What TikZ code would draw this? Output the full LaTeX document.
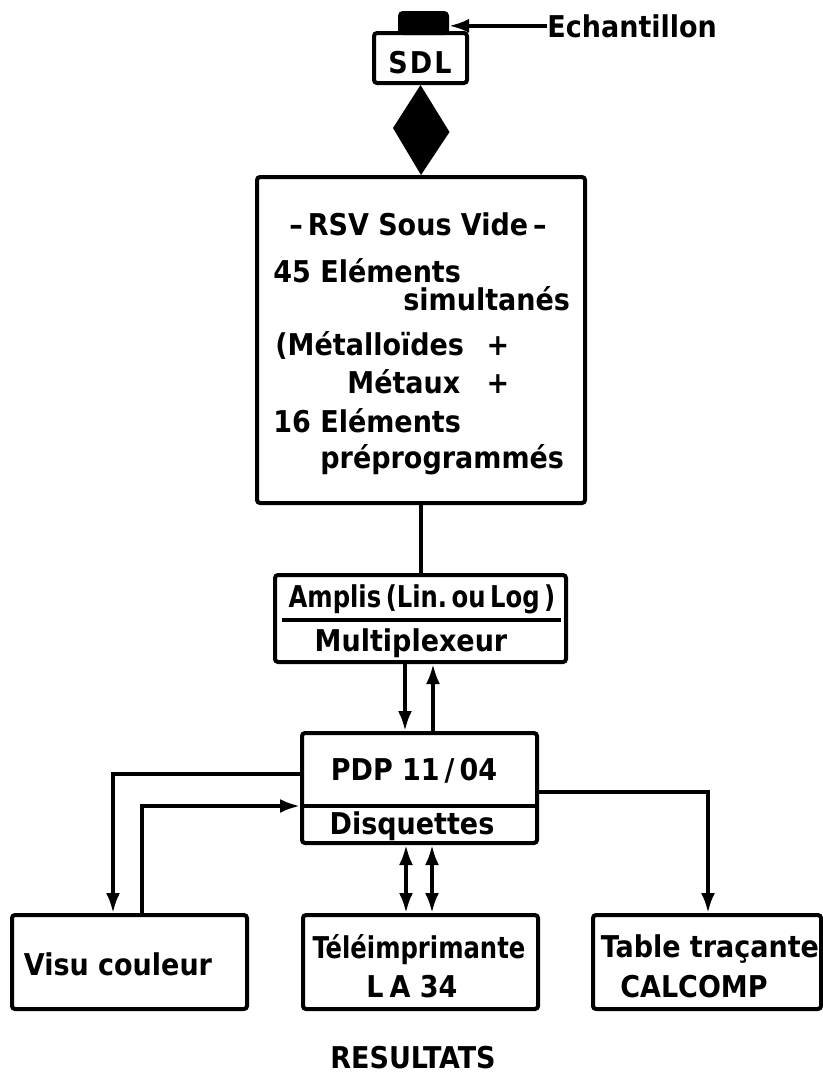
\documentclass[tikz,border=0pt]{standalone}
\usepackage{fontspec}
\setmainfont{DejaVu Sans Condensed}[BoldFont={DejaVu Sans Condensed Bold}]
\usetikzlibrary{arrows.meta}
\begin{document}
\begin{tikzpicture}[x=0.5pt,y=-0.5pt,
  txt/.style={inner sep=0pt, font=\bfseries\fontsize{15}{18}\selectfont},
  box/.style={draw, line width=2pt, rounded corners=1.5pt, inner sep=0pt},
  conn/.style={line width=1.8pt},
  arr/.style={-{Latex[length=10pt,width=7pt]}},
  darr/.style={{Latex[length=10pt,width=7pt]}-{Latex[length=10pt,width=7pt]}}]
\useasboundingbox (0,0) rectangle (823,1083);

% boxes
\node[box, fill=black, minimum width=23.5pt, minimum height=10pt] (sample) at (423.5,23) {};
\node[box, minimum width=46.5pt, minimum height=25pt] (sdl) at (420.5,58) {};
\node[box, minimum width=164pt, minimum height=163pt] (rsv) at (421,340) {};
\node[box, minimum width=145.5pt, minimum height=43.5pt] (amp) at (420.5,618.5) {};
\node[box, minimum width=117.5pt, minimum height=55pt] (pdp) at (419.5,788) {};
\node[box, minimum width=117.5pt, minimum height=47pt] (visu) at (129.5,962) {};
\node[box, minimum width=117.5pt, minimum height=47pt] (tele) at (420.5,962) {};
\node[box, minimum width=114pt, minimum height=47pt] (table) at (707,962) {};

% dividers
\draw[line width=1.7pt] (282,620) -- (561,620);
\draw[line width=1.7pt] (pdp.west |- 0,806) -- (pdp.east |- 0,806);

% texts
\node[txt, anchor=base west] (ech) at (547,37) {Echantillon};
\node[txt, anchor=base] (sdlt) at (420,73) {S\kern1pt D\kern1pt L};
\node[txt, anchor=base] (r1) at (418,235) {–\,RSV Sous Vide\,–};
\node[txt, anchor=base west] (r2) at (273,282) {45 Eléments};
\node[txt, anchor=base west] (r3) at (403,310) {simultanés};
\node[txt, anchor=base west] (r4) at (275,355) {(Métalloïdes};
\node[txt, anchor=base] (r4p) at (498,355) {+};
\node[txt, anchor=base west] (r5) at (347,393) {Métaux};
\node[txt, anchor=base] (r5p) at (498,393) {+};
\node[txt, anchor=base west] (r6) at (273,432) {16 Eléments};
\node[txt, anchor=base west] (r7) at (320,468) {préprogrammés};
\node[txt, anchor=base] (amp1) at (422,607) {\scalebox{0.9}[1]{Amplis\,(Lin.\,ou\,Log\,)}};
\node[txt, anchor=base] (amp2) at (411,651) {Multiplexeur};
\node[txt, anchor=base] (pdp1) at (414,780) {PDP 11\,/\,04};
\node[txt, anchor=base] (pdp2) at (412,834) {Disquettes};
\node[txt, anchor=base] (visut) at (118,975) {Visu couleur};
\node[txt, anchor=base] (tele1) at (419,958) {\scalebox{0.9}[1]{Téléimprimante}};
\node[txt, anchor=base] (tele2) at (412,997) {L\kern3pt A 34};
\node[txt, anchor=base] (table1) at (710,957) {Table traçante};
\node[txt, anchor=base] (table2) at (694,997) {CALCOMP};
\node[txt, anchor=base] (res) at (413,1068) {RESULTATS};

% diamond between SDL and RSV
\fill (sdl.south) -- ++(29,47) -- (rsv.north) -- ++(-28,-47) -- cycle;

% connectors
\draw[conn, arr] (ech.west) -- (ech.west -| sample.east);
\draw[conn] (rsv.south) -- (rsv.south |- amp.north);
\draw[conn, arr] (amp.south -| 405,0) -- (pdp.north -| 405,0);
\draw[conn, arr] (pdp.north -| 433,0) -- (amp.south -| 433,0);
\draw[conn, arr] (pdp.west |- 0,774) -| (visu.north -| 113,0);
\draw[conn, arr] (visu.north -| 142,0) |- (pdp.west |- 0,806);
\draw[conn, arr] (pdp.east |- 0,792) -| (table.north -| 708,0);
\draw[conn, darr] (pdp.south -| 406,0) -- (tele.north -| 406,0);
\draw[conn, darr] (pdp.south -| 432,0) -- (tele.north -| 432,0);
\end{tikzpicture}
\end{document}
